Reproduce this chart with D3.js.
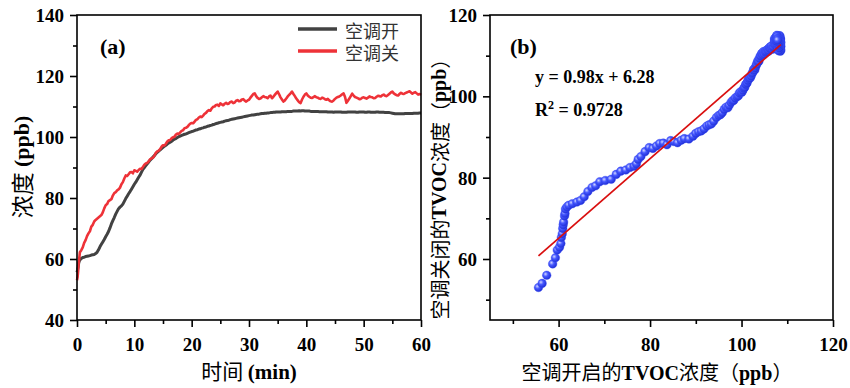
<!DOCTYPE html>
<meta charset="utf-8">
<style>
body { margin: 0; background: #fff; }
svg { display: block; }
.num { font-family: "Liberation Serif", "Times New Roman", serif; font-weight: bold; }
.cjk { font-family: "Noto Sans CJK SC", sans-serif; font-weight: normal; }
.axis path, .axis line { stroke: #000; stroke-width: 1.6px; }
.axis text { font-family: "Liberation Serif", "Times New Roman", serif; font-weight: bold; font-size: 19px; fill: #000; }
.frame { fill: none; stroke: #000; stroke-width: 1.6px; }
</style>
<svg width="850" height="388"></svg>
<script src="https://d3js.org/d3.v7.min.js"></script>
<script>

// sampling time (min); one row = 2 min
var time = [
  0, 0.1, 0.2, 0.3, 0.4, 0.5, 0.75, 1, 1.25, 1.5, 1.75,
  2, 2.25, 2.5, 2.75, 3, 3.25, 3.5, 3.75,
  4, 4.25, 4.5, 4.75, 5, 5.25, 5.5, 5.75,
  6, 6.25, 6.5, 6.75, 7, 7.25, 7.5, 7.75,
  8, 8.25, 8.5, 8.75, 9, 9.25, 9.5, 9.75,
  10, 10.25, 10.5, 10.75, 11, 11.25, 11.5, 11.75,
  12, 12.25, 12.5, 12.75, 13, 13.25, 13.5, 13.75,
  14, 14.25, 14.5, 14.75, 15, 15.25, 15.5, 15.75,
  16, 16.25, 16.5, 16.75, 17, 17.25, 17.5, 17.75,
  18, 18.25, 18.5, 18.75, 19, 19.25, 19.5, 19.75,
  20, 20.25, 20.5, 20.75, 21, 21.25, 21.5, 21.75,
  22, 22.25, 22.5, 22.75, 23, 23.25, 23.5, 23.75,
  24, 24.25, 24.5, 24.75, 25, 25.25, 25.5, 25.75,
  26, 26.25, 26.5, 26.75, 27, 27.25, 27.5, 27.75,
  28, 28.25, 28.5, 28.75, 29, 29.25, 29.5, 29.75,
  30, 30.25, 30.5, 30.75, 31, 31.25, 31.5, 31.75,
  32, 32.25, 32.5, 32.75, 33, 33.25, 33.5, 33.75,
  34, 34.25, 34.5, 34.75, 35, 35.25, 35.5, 35.75,
  36, 36.25, 36.5, 36.75, 37, 37.25, 37.5, 37.75,
  38, 38.25, 38.5, 38.75, 39, 39.25, 39.5, 39.75,
  40, 40.25, 40.5, 40.75, 41, 41.25, 41.5, 41.75,
  42, 42.25, 42.5, 42.75, 43, 43.25, 43.5, 43.75,
  44, 44.25, 44.5, 44.75, 45, 45.25, 45.5, 45.75,
  46, 46.25, 46.5, 46.75, 47, 47.25, 47.5, 47.75,
  48, 48.25, 48.5, 48.75, 49, 49.25, 49.5, 49.75,
  50, 50.25, 50.5, 50.75, 51, 51.25, 51.5, 51.75,
  52, 52.25, 52.5, 52.75, 53, 53.25, 53.5, 53.75,
  54, 54.25, 54.5, 54.75, 55, 55.25, 55.5, 55.75,
  56, 56.25, 56.5, 56.75, 57, 57.25, 57.5, 57.75,
  58, 58.25, 58.5, 58.75, 59, 59.25, 59.5, 59.75,
  60
];

// 空调开 (ppb)
var acOn = [
  55.6, 56.4, 57.4, 58.7, 59.3, 59.7, 60.2, 60.5, 60.6, 60.8, 60.9,
  61.0, 61.1, 61.3, 61.4, 61.5, 61.8, 62.2, 63.0,
  64.0, 64.8, 65.6, 66.4, 67.3, 68.1, 69.0, 70.2,
  71.5, 72.6, 73.6, 74.7, 75.6, 76.5, 77.0, 77.4,
  78.0, 78.9, 79.8, 80.6, 81.4, 82.1, 82.9, 83.7,
  84.5, 85.2, 86.0, 86.8, 87.5, 88.5, 89.4, 90.0,
  90.6, 91.2, 91.8, 92.4, 92.9, 93.4, 93.9, 94.5,
  95.0, 95.4, 95.8, 96.2, 96.6, 97.0, 97.3, 97.7,
  98.0, 98.3, 98.6, 99.0, 99.3, 99.5, 99.8, 100.1,
  100.3, 100.5, 100.7, 100.9, 101.0, 101.2, 101.4, 101.6,
  101.8, 101.9, 102.1, 102.3, 102.4, 102.6, 102.7, 102.9,
  103.0, 103.2, 103.3, 103.5, 103.6, 103.8, 103.9, 104.1,
  104.2, 104.4, 104.5, 104.7, 104.8, 104.9, 105.0, 105.2,
  105.3, 105.4, 105.5, 105.7, 105.8, 105.9, 106.0, 106.1,
  106.2, 106.3, 106.4, 106.5, 106.6, 106.7, 106.8, 106.9,
  107.0, 107.1, 107.2, 107.2, 107.3, 107.4, 107.5, 107.5,
  107.6, 107.7, 107.7, 107.8, 107.8, 107.9, 107.9, 108.0,
  108.0, 108.1, 108.1, 108.2, 108.2, 108.2, 108.2, 108.3,
  108.3, 108.3, 108.3, 108.4, 108.4, 108.4, 108.4, 108.5,
  108.5, 108.5, 108.5, 108.6, 108.5, 108.6, 108.6, 108.5,
  108.5, 108.5, 108.5, 108.4, 108.4, 108.4, 108.4, 108.4,
  108.4, 108.3, 108.3, 108.3, 108.3, 108.3, 108.3, 108.2,
  108.2, 108.2, 108.2, 108.1, 108.2, 108.2, 108.2, 108.2,
  108.2, 108.1, 108.1, 108.1, 108.1, 108.2, 108.2, 108.2,
  108.2, 108.2, 108.2, 108.1, 108.1, 108.2, 108.2, 108.2,
  108.2, 108.1, 108.1, 108.2, 108.2, 108.1, 108.1, 108.1,
  108.1, 108.2, 108.2, 108.1, 108.1, 108.1, 108.1, 108.0,
  108.0, 108.0, 108.0, 107.9, 107.8, 107.7, 107.6, 107.6,
  107.6, 107.6, 107.6, 107.6, 107.6, 107.7, 107.7, 107.7,
  107.7, 107.7, 107.7, 107.8, 107.8, 107.8, 107.8, 107.9,
  107.9
];

// 空调关 (ppb)
var acOff = [
  53.0, 54.0, 56.0, 58.8, 60.3, 62.2, 62.9, 63.8, 65.3, 66.2, 67.5,
  68.4, 69.1, 70.6, 71.2, 72.3, 72.8, 73.2, 73.6,
  74.0, 74.4, 75.3, 76.6, 77.6, 78.0, 79.0, 79.3,
  79.6, 80.8, 81.6, 81.9, 82.5, 82.8, 83.4, 84.5,
  85.2, 86.4, 87.4, 87.2, 87.8, 88.4, 88.5, 88.1,
  89.1, 88.9, 88.6, 89.2, 89.6, 89.5, 90.2, 90.9,
  91.3, 91.5, 92.0, 92.7, 93.0, 93.2, 93.9, 94.8,
  95.3, 95.5, 96.0, 96.8, 97.3, 97.2, 97.8, 98.5,
  98.9, 99.0, 99.6, 99.9, 100.1, 100.8, 101.1, 101.0,
  101.5, 102.0, 102.2, 102.9, 103.0, 103.3, 103.9, 104.4,
  104.6, 104.5, 105.0, 105.6, 105.8, 106.4, 106.7, 106.5,
  107.0, 107.6, 107.9, 108.5, 108.8, 108.6, 109.4, 109.9,
  110.0, 110.5, 110.6, 110.2, 111.0, 110.7, 110.4, 110.9,
  111.2, 110.8, 111.0, 111.5, 111.6, 111.1, 111.3, 111.9,
  112.1, 111.7, 111.8, 112.3, 112.4, 111.9, 111.6, 112.0,
  112.2, 112.9, 113.5, 114.1, 114.3, 113.4, 112.8, 112.5,
  112.6, 113.0, 113.4, 113.1, 113.0, 112.7, 113.3, 113.6,
  112.7, 113.2, 113.8, 114.4, 114.9, 114.0, 113.0, 112.3,
  111.6, 112.0, 112.6, 113.3, 113.8, 114.3, 114.9, 114.1,
  113.4, 112.6, 112.0, 111.4, 111.1, 112.3, 113.2, 113.9,
  114.3, 113.6, 113.2, 112.9, 112.8, 113.1, 113.4, 113.0,
  112.9, 112.6, 112.5, 112.9, 112.7, 112.4, 112.2, 112.5,
  112.0, 111.7, 111.6, 112.0, 112.5, 112.9, 113.1, 113.3,
  113.6, 114.0, 114.3, 113.1, 111.2, 111.9, 112.6, 113.4,
  114.2, 113.6, 113.1, 112.9, 112.7, 112.4, 112.5, 112.9,
  113.0, 112.8, 112.6, 112.9, 113.3, 113.1, 113.0, 112.7,
  112.8, 113.2, 113.5, 113.4, 113.3, 113.7, 113.9, 113.5,
  113.4, 113.8, 114.2, 114.6, 114.9, 114.3, 114.0, 113.7,
  113.6, 114.1, 114.5, 114.2, 114.1, 114.4, 114.6, 114.8,
  115.0, 114.6, 114.2, 114.5, 114.7, 114.3, 113.9, 114.1,
  113.8
];

var seriesNames = ["空调开", "空调关"];
var seriesColors = ["#424242", "#ee3238"];

// fitted line (b)
var fitSlope = 0.98, fitIntercept = 6.28, fitR2 = "0.9728";

var aXTicks = [0, 10, 20, 30, 40, 50, 60],
    aXMinor = [5, 15, 25, 35, 45, 55],
    aYTicks = [40, 60, 80, 100, 120, 140],
    aYMinor = [50, 70, 90, 110, 130];
var bTicks = [60, 80, 100, 120],
    bMinor = [50, 70, 90, 110];

if (acOn.length !== time.length || acOff.length !== time.length)
  console.error("length mismatch", time.length, acOn.length, acOff.length);

var svg = d3.select("svg");

var defs = svg.append("defs");
var grad = defs.append("radialGradient")
    .attr("id", "ball").attr("cx", "40%").attr("cy", "40%").attr("r", "60%")
    .attr("fx", "35%").attr("fy", "35%");
grad.append("stop").attr("offset", "0%").attr("stop-color", "#d2d7ff");
grad.append("stop").attr("offset", "45%").attr("stop-color", "#4658ff");
grad.append("stop").attr("offset", "100%").attr("stop-color", "#1f2ed6");

function drawAxes(g, x, y, xt, xm, yt, ym) {
  var x0 = x.range()[0], x1 = x.range()[1], y0 = y.range()[0], y1 = y.range()[1];
  g.append("g").attr("class", "axis")
      .attr("transform", "translate(0," + y0 + ")")
      .call(d3.axisBottom(x).tickValues(xm).tickSize(4).tickFormat(""))
      .select(".domain").remove();
  g.append("g").attr("class", "axis")
      .attr("transform", "translate(" + x0 + ",0)")
      .call(d3.axisLeft(y).tickValues(ym).tickSize(4).tickFormat(""))
      .select(".domain").remove();
  var bx = g.append("g").attr("class", "axis")
      .attr("transform", "translate(0," + y0 + ")")
      .call(d3.axisBottom(x).tickValues(xt).tickSize(7).tickPadding(11).tickSizeOuter(0));
  bx.select(".domain").remove();
  var ly = g.append("g").attr("class", "axis")
      .attr("transform", "translate(" + x0 + ",0)")
      .call(d3.axisLeft(y).tickValues(yt).tickSize(7).tickPadding(6).tickSizeOuter(0));
  ly.select(".domain").remove();
  ly.selectAll("text").attr("dy", "0.34em");
  g.append("rect").attr("class", "frame")
      .attr("x", x0).attr("y", y1)
      .attr("width", x1 - x0).attr("height", y0 - y1);
}

// ---------- panel (a)
var xa = d3.scaleLinear().domain([0, 60]).range([77, 421]),
    ya = d3.scaleLinear().domain([40, 140]).range([320, 15]);
var ga = svg.append("g");

var line = d3.line().x(function(d, i) { return xa(time[i]); }).y(function(d) { return ya(d); });

ga.append("path").datum(acOn)
    .attr("fill", "none").attr("stroke", seriesColors[0]).attr("stroke-width", 3)
    .attr("stroke-linejoin", "round").attr("d", line);
ga.append("path").datum(acOff)
    .attr("fill", "none").attr("stroke", seriesColors[1]).attr("stroke-width", 2.6)
    .attr("stroke-linejoin", "round").attr("d", line);

drawAxes(ga, xa, ya, aXTicks, aXMinor, aYTicks, aYMinor);

ga.append("text").attr("class", "num").attr("x", 100).attr("y", 54)
    .attr("font-size", 22).text("(a)");

// legend
seriesNames.forEach(function(n, i) {
  var ly = 29 + i * 22;
  ga.append("line").attr("x1", 298).attr("x2", 337).attr("y1", ly).attr("y2", ly)
      .attr("stroke", seriesColors[i]).attr("stroke-width", 3.4);
  ga.append("text").attr("class", "cjk").attr("x", 345).attr("y", ly + 1)
      .attr("dominant-baseline", "central").attr("font-size", 18).attr("fill", "#333")
      .text(n);
});

var xla = ga.append("text").attr("x", 249).attr("y", 379).attr("text-anchor", "middle").attr("font-size", 21);
xla.append("tspan").attr("class", "cjk").text("时间 ");
xla.append("tspan").attr("class", "num").text("(min)");

var yla = ga.append("text").attr("transform", "translate(21,167) rotate(-90)")
    .attr("text-anchor", "middle").attr("dominant-baseline", "central").attr("font-size", 22);
yla.append("tspan").attr("class", "cjk").attr("font-size", 23).text("浓度 ");
yla.append("tspan").attr("class", "num").text("(ppb)");

// ---------- panel (b)
var xb = d3.scaleLinear().domain([45, 120]).range([490, 833]),
    yb = d3.scaleLinear().domain([45, 120]).range([320, 15]);
var gb = svg.append("g");

var pairs = acOn.map(function(v, i) { return [v, acOff[i]]; });

gb.selectAll("circle.pt")
    .data(pairs)
  .enter().append("circle")
    .attr("class", "pt")
    .attr("cx", function(d) { return xb(d[0]); })
    .attr("cy", function(d) { return yb(d[1]); })
    .attr("r", 4.3)
    .attr("fill", "url(#ball)")
    .attr("stroke", "#3a4cf5").attr("stroke-width", 0.4);

var ext = d3.extent(acOn);
gb.append("line")
    .attr("x1", xb(ext[0])).attr("y1", yb(fitSlope * ext[0] + fitIntercept))
    .attr("x2", xb(ext[1])).attr("y2", yb(fitSlope * ext[1] + fitIntercept))
    .attr("stroke", "#d90f0f").attr("stroke-width", 1.7);

drawAxes(gb, xb, yb, bTicks, bMinor, bTicks, bMinor);

gb.append("text").attr("class", "num").attr("x", 510).attr("y", 54)
    .attr("font-size", 22).text("(b)");
gb.append("text").attr("class", "num").attr("x", 535).attr("y", 83)
    .attr("font-size", 18).text("y = " + fitSlope + "x + " + fitIntercept);
var r2 = gb.append("text").attr("class", "num").attr("x", 535).attr("y", 116).attr("font-size", 18);
r2.append("tspan").text("R");
r2.append("tspan").attr("font-size", 12).attr("dy", -7).text("2");
r2.append("tspan").attr("dy", 7).text(" = " + fitR2);

var xlb = gb.append("text").attr("x", 657).attr("y", 380).attr("text-anchor", "middle").attr("font-size", 20);
xlb.append("tspan").attr("class", "cjk").text("空调开启的");
xlb.append("tspan").attr("class", "num").text("TVOC");
xlb.append("tspan").attr("class", "cjk").text("浓度（");
xlb.append("tspan").attr("class", "num").text("ppb");
xlb.append("tspan").attr("class", "cjk").text("）");

var ylb = gb.append("text").attr("transform", "translate(439,184) rotate(-90)")
    .attr("text-anchor", "middle").attr("dominant-baseline", "central").attr("font-size", 20);
ylb.append("tspan").attr("class", "cjk").text("空调关闭的");
ylb.append("tspan").attr("class", "num").text("TVOC");
ylb.append("tspan").attr("class", "cjk").text("浓度（");
ylb.append("tspan").attr("class", "num").text("ppb");
ylb.append("tspan").attr("class", "cjk").text("）");

</script>
